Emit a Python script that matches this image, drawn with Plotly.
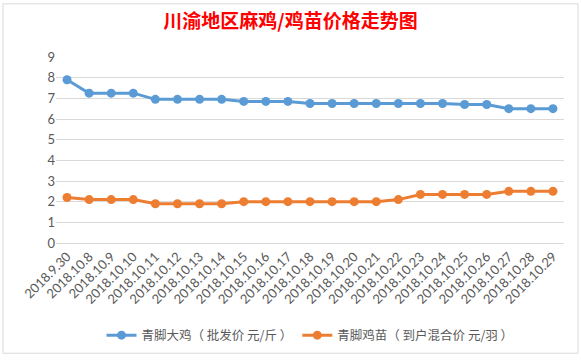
import plotly.graph_objects as go

dates = ["2018.9.30", "2018.10.8", "2018.10.9", "2018.10.10", "2018.10.11", "2018.10.12",
         "2018.10.13", "2018.10.14", "2018.10.15", "2018.10.16", "2018.10.17", "2018.10.18",
         "2018.10.19", "2018.10.20", "2018.10.21", "2018.10.22", "2018.10.23", "2018.10.24",
         "2018.10.25", "2018.10.26", "2018.10.27", "2018.10.28", "2018.10.29"]
big_chicken = [7.9, 7.25, 7.25, 7.25, 6.95, 6.95, 6.95, 6.95, 6.85, 6.85, 6.85, 6.75,
               6.75, 6.75, 6.75, 6.75, 6.75, 6.75, 6.7, 6.7, 6.5, 6.5, 6.5]
chick = [2.2, 2.1, 2.1, 2.1, 1.9, 1.9, 1.9, 1.9, 2.0, 2.0, 2.0, 2.0,
         2.0, 2.0, 2.0, 2.1, 2.35, 2.35, 2.35, 2.35, 2.5, 2.5, 2.5]
y_ticks = [0, 1, 2, 3, 4, 5, 6, 7, 8, 9]

name1 = "青脚大鸡（ 批发价 元/斤 ）"
name2 = "青脚鸡苗（ 到户混合价 元/羽 ）"
title = "川渝地区麻鸡/鸡苗价格走势图"

W, H = 581, 362
ml, mr, mt, mb = 56, 17, 57, 116

fig = go.Figure()
fig.add_trace(go.Scatter(x=dates, y=big_chicken, name=name1, mode="lines+markers",
                         line=dict(color="#5B9BD5", width=3),
                         marker=dict(color="#5B9BD5", size=9)))
fig.add_trace(go.Scatter(x=dates, y=chick, name=name2, mode="lines+markers",
                         line=dict(color="#ED7D31", width=3),
                         marker=dict(color="#ED7D31", size=9)))

pw = W - ml - mr
ph = H - mt - mb
# outer chart border in paper coordinates
x0 = (3 - ml) / pw
x1 = (578 - ml) / pw
y0 = (H - mb - 358) / ph
y1 = (H - mb - 3) / ph
fig.add_shape(type="rect", xref="paper", yref="paper", x0=x0, x1=x1, y0=y0, y1=y1,
              line=dict(color="#D9D9D9", width=1), layer="below")

fig.update_layout(
    width=W, height=H,
    margin=dict(l=ml, r=mr, t=mt, b=mb),
    paper_bgcolor="white", plot_bgcolor="white",
    font=dict(family="Noto Sans CJK SC, Lato, sans-serif", color="#595959", size=12),
    title=dict(text=title, x=0.5, xanchor="center", y=1 - 21 / H, yanchor="middle",
               font=dict(family="Noto Sans CJK SC", size=19, color="#FF0000", weight="bold")),
    showlegend=True,
    legend=dict(orientation="h", x=0.5, xanchor="center", y=(H - mb - 340) / ph,
                yanchor="middle", font=dict(size=12.5, color="#595959"),
                itemwidth=30, tracegroupgap=0),
    xaxis=dict(type="category", range=[-0.5, len(dates) - 0.5], tickangle=-45,
               showgrid=False, showline=True, linecolor="#D9D9D9", ticks="",
               automargin=False,
               tickfont=dict(family="Lato, sans-serif", size=13, color="#595959")),
    yaxis=dict(range=[0, 9], tickvals=y_ticks, showgrid=True, gridcolor="#D9D9D9",
               gridwidth=1, zeroline=False, showline=False, ticks="", automargin=False,
               tickfont=dict(family="Lato, sans-serif", size=13, color="#595959")),
)

fig.write_html("out.html", config={"displayModeBar": False},
               post_script="document.body.style.margin='0';document.body.style.overflow='hidden';")
